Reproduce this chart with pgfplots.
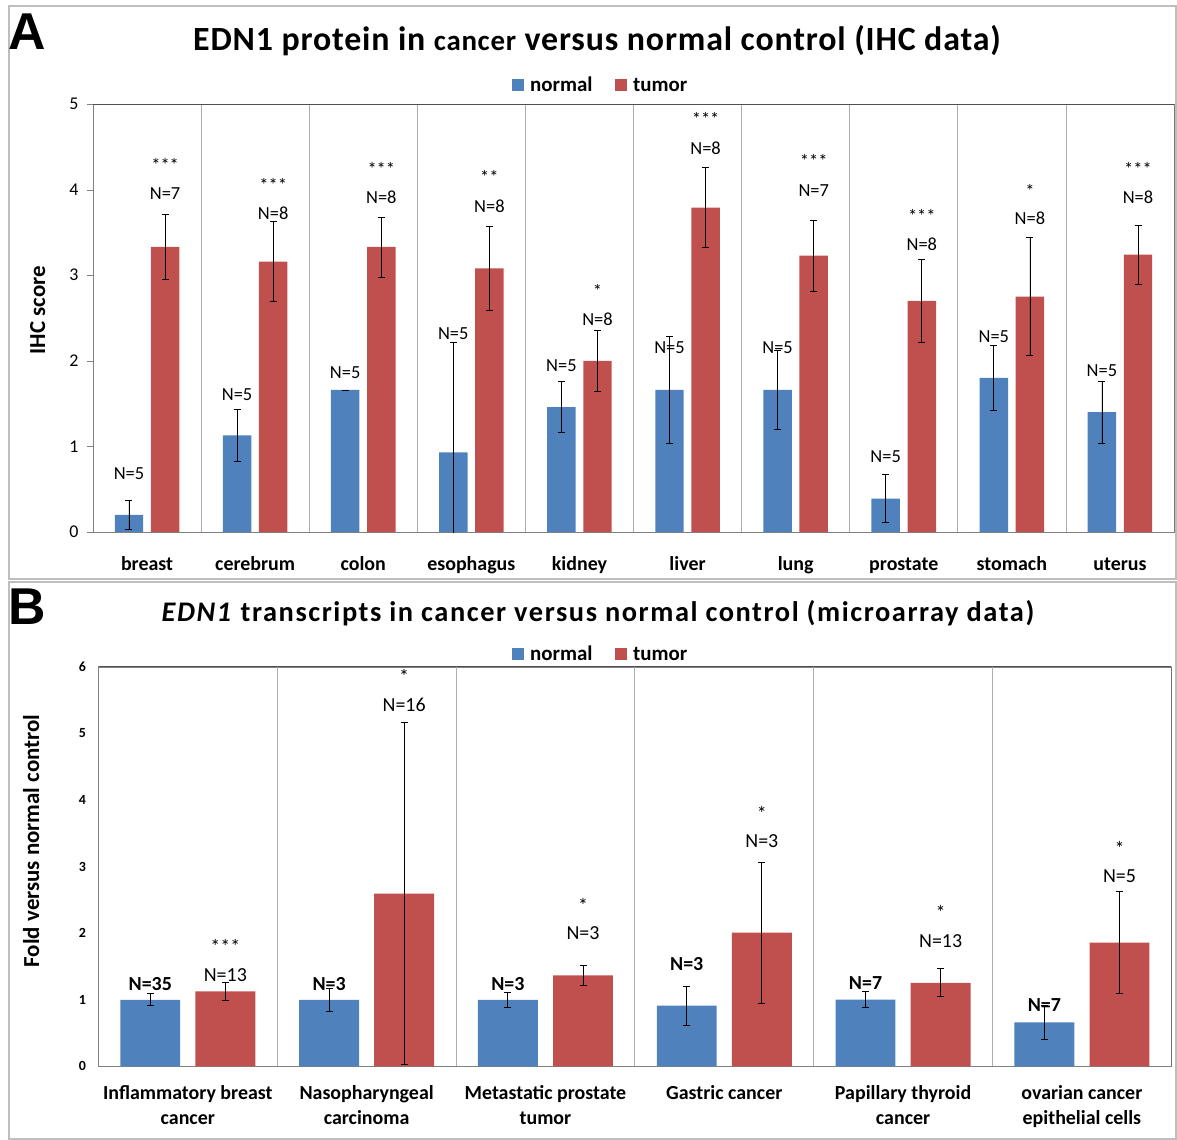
\documentclass[border=0pt]{standalone}
\usepackage{fontspec}
\setmainfont{Carlito}
\newfontfamily\arialfont{Liberation Sans}
\newfontfamily\titleAfont[LetterSpace=2.5]{Carlito}
\newfontfamily\titleBfont[LetterSpace=5.5]{Carlito}
\usepackage{pgfplots}
\usepackage{pgfplotstable}
\pgfplotsset{compat=1.18}
\definecolor{nblue}{RGB}{79,129,189}
\definecolor{tred}{RGB}{192,80,77}
\definecolor{sepgray}{RGB}{175,175,175}
\definecolor{framedark}{RGB}{80,80,80}
\definecolor{boxgray}{RGB}{190,190,190}

\pgfplotstableread{
cat n ne t te
0 0.20 0.17 3.33 0.38
1 1.13 0.30 3.16 0.47
2 1.66 0.00 3.33 0.35
3 0.93 1.29 3.08 0.49
4 1.46 0.30 2.00 0.355
5 1.66 0.62 3.79 0.47
6 1.66 0.465 3.23 0.415
7 0.39 0.28 2.70 0.49
8 1.80 0.38 2.75 0.69
9 1.40 0.36 3.24 0.345
}\tabA

\pgfplotstableread{
cat n ne t te
0 1.00 0.09 1.126 0.135
1 1.00 0.177 2.595 2.57
2 1.00 0.107 1.367 0.148
3 0.912 0.295 2.011 1.06
4 1.003 0.12 1.255 0.21
5 0.66 0.25 1.86 0.767
}\tabB

\pgfplotsset{
  errstyle/.style={error bars/.cd, y dir=both, y explicit,
    error bar style={black, line width=0.8bp},
    error mark options={rotate=90, black, mark size=3.5bp, line width=0.8bp}},
}
\newcommand{\annA}{\fontsize{18.5}{20}\selectfont}
\newcommand{\annB}{\fontsize{20}{22}\selectfont}
\newcommand{\la}[3]{\node[font=\annA, inner sep=0] at (axis cs:#1,#2) {#3};}
\newcommand{\lb}[3]{\node[font=\annB, inner sep=0] at (axis cs:#1,#2) {#3};}
\newcommand{\lbb}[3]{\node[font=\bfseries\annB, inner sep=0] at (axis cs:#1,#2) {#3};}

\begin{document}
\begin{tikzpicture}
\path[use as bounding box] (0,0) rectangle (1177bp,-1140bp);
\draw[boxgray, line width=1.5bp] (9bp,-6bp) rectangle (1176bp,-579bp);
\draw[boxgray, line width=1.5bp] (9bp,-582bp) rectangle (1176bp,-1139bp);

% Panel letters and titles
\node[font=\arialfont\bfseries\fontsize{52}{52}\selectfont, anchor=base west, inner sep=0] at (8bp,-49bp) {A};
\node[font=\arialfont\bfseries\fontsize{52}{52}\selectfont, anchor=base west, inner sep=0] at (8bp,-624bp) {B};
\node[font=\titleAfont\bfseries\fontsize{34}{36}\selectfont, anchor=base, inner sep=0] at (597bp,-50bp)
  {EDN1 protein in {\fontsize{29}{30}\selectfont cancer} versus normal control (IHC data)};
\node[font=\titleBfont\bfseries\fontsize{28.5}{30}\selectfont, anchor=base, inner sep=0] at (598bp,-621bp)
  {\textit{EDN1} transcripts in cancer versus normal control (microarray data)};

% legends
\fill[nblue] (512bp,-79bp) rectangle (524bp,-91bp);
\node[font=\bfseries\fontsize{21}{22}\selectfont, anchor=base west, inner sep=0] at (530bp,-91bp) {normal};
\fill[tred] (615bp,-79bp) rectangle (627bp,-91bp);
\node[font=\bfseries\fontsize{21}{22}\selectfont, anchor=base west, inner sep=0] at (633bp,-91bp) {tumor};
\fill[nblue] (512bp,-648bp) rectangle (524bp,-660bp);
\node[font=\bfseries\fontsize{21}{22}\selectfont, anchor=base west, inner sep=0] at (530bp,-660bp) {normal};
\fill[tred] (615bp,-648bp) rectangle (627bp,-660bp);
\node[font=\bfseries\fontsize{21}{22}\selectfont, anchor=base west, inner sep=0] at (633bp,-660bp) {tumor};

% y labels
\node[font=\bfseries\fontsize{23}{24}\selectfont, rotate=90, anchor=base, inner sep=0] at (45bp,-310bp) {IHC score};
\node[font=\bfseries\fontsize{23}{24}\selectfont, rotate=90, anchor=base, inner sep=0] at (39bp,-841bp) {Fold versus normal control};

% ---------------- Panel A
\begin{axis}[
  at={(93bp,-532bp)}, anchor=south west,
  scale only axis, width=1081bp, height=428bp,
  xmin=-0.5, xmax=9.5, ymin=0, ymax=5,
  axis line style={draw=gray},
  ytick={0,...,5}, ytick pos=left, ytick align=outside, major tick length=6bp,
  y tick style={gray},
  xtick={0,...,9}, xtick pos=bottom,
  xticklabels={breast,cerebrum,colon,esophagus,kidney,liver,lung,prostate,stomach,uterus},
  x tick style={draw=none},
  extra x ticks={0.5,1.5,...,8.5}, extra x tick labels={},
  extra x tick style={grid=major, major grid style={sepgray, line width=0.8bp}, tick style={draw=none}},
  /pgf/number format/assume math mode=true,
  yticklabel style={font=\fontsize{18}{20}\selectfont, xshift=-5bp},
  xticklabel style={font=\bfseries\fontsize{20}{22}\selectfont, anchor=base, yshift=-38bp},
]
\addplot[ybar, bar width=0.263, bar shift=0pt, fill=nblue, draw=none, errstyle] table[x expr=\thisrow{cat}-0.167, y=n, y error=ne] {\tabA};
\addplot[ybar, bar width=0.263, bar shift=0pt, fill=tred, draw=none, errstyle] table[x expr=\thisrow{cat}+0.167, y=t, y error=te] {\tabA};
\draw[framedark, line width=1bp] (rel axis cs:0,1) -- (rel axis cs:1,1) -- (rel axis cs:1,0);
% annotations
\la{-0.167}{0.68}{N=5}  \la{0.167}{3.955}{N=7}  \la{0.167}{4.29}{***}
\la{0.833}{1.606}{N=5}  \la{1.167}{3.72}{N=8}   \la{1.167}{4.06}{***}
\la{1.833}{1.857}{N=5}  \la{2.167}{3.91}{N=8}   \la{2.167}{4.24}{***}
\la{2.833}{2.32}{N=5}   \la{3.167}{3.81}{N=8}   \la{3.167}{4.145}{**}
\la{3.833}{1.947}{N=5}  \la{4.167}{2.487}{N=8}  \la{4.167}{2.82}{*}
\la{4.833}{2.15}{N=5}   \la{5.167}{4.48}{N=8}   \la{5.167}{4.82}{***}
\la{5.833}{2.15}{N=5}   \la{6.167}{3.99}{N=7}   \la{6.167}{4.33}{***}
\la{6.833}{0.885}{N=5}  \la{7.167}{3.36}{N=8}   \la{7.167}{3.69}{***}
\la{7.833}{2.28}{N=5}   \la{8.167}{3.66}{N=8}   \la{8.167}{3.99}{*}
\la{8.833}{1.88}{N=5}   \la{9.167}{3.916}{N=8}  \la{9.167}{4.24}{***}
\end{axis}

% ---------------- Panel B
\begin{axis}[
  at={(98.4bp,-1066.4bp)}, anchor=south west,
  scale only axis, width=1073bp, height=399.5bp,
  xmin=-0.5, xmax=5.5, ymin=0, ymax=6,
  axis line style={draw=gray},
  ytick={0,...,6}, ytick pos=left, ytick align=outside, major tick length=0bp,
  xtick={0,...,5}, xtick pos=bottom,
  xticklabels={{Inflammatory breast\\cancer},{Nasopharyngeal\\carcinoma},{Metastatic prostate\\tumor},{Gastric cancer},{Papillary thyroid\\cancer},{ovarian cancer\\epithelial cells}},
  x tick style={draw=none},
  extra x ticks={0.5,1.5,...,4.5}, extra x tick labels={},
  extra x tick style={grid=major, major grid style={sepgray, line width=0.8bp}, tick style={draw=none}},
  /pgf/number format/assume math mode=true,
  yticklabel style={font=\bfseries\fontsize{14}{16}\selectfont, xshift=-9bp},
  xticklabel style={font=\bfseries\fontsize{20}{24.5}\selectfont, align=center, anchor=north, yshift=-16bp},
]
\addplot[ybar, bar width=0.335, bar shift=0pt, fill=nblue, draw=none, errstyle] table[x expr=\thisrow{cat}-0.21, y=n, y error=ne] {\tabB};
\addplot[ybar, bar width=0.335, bar shift=0pt, fill=tred, draw=none, errstyle] table[x expr=\thisrow{cat}+0.21, y=t, y error=te] {\tabB};
\draw[framedark, line width=1bp] (rel axis cs:0,1) -- (rel axis cs:1,1) -- (rel axis cs:1,0);
\lbb{-0.21}{1.244}{N=35} \lb{0.21}{1.378}{N=13} \lb{0.21}{1.807}{***}
\lbb{0.79}{1.244}{N=3}   \lb{1.21}{5.426}{N=16} \lb{1.21}{5.855}{*}
\lbb{1.79}{1.244}{N=3}   \lb{2.21}{1.995}{N=3}  \lb{2.21}{2.42}{*}
\lbb{2.79}{1.539}{N=3}   \lb{3.21}{3.378}{N=3}  \lb{3.21}{3.80}{*}
\lbb{3.79}{1.255}{N=7}   \lb{4.21}{1.877}{N=13} \lb{4.21}{2.306}{*}
\lbb{4.79}{0.922}{N=7}   \lb{5.21}{2.85}{N=5}   \lb{5.21}{3.27}{*}
\end{axis}
\end{tikzpicture}
\end{document}
